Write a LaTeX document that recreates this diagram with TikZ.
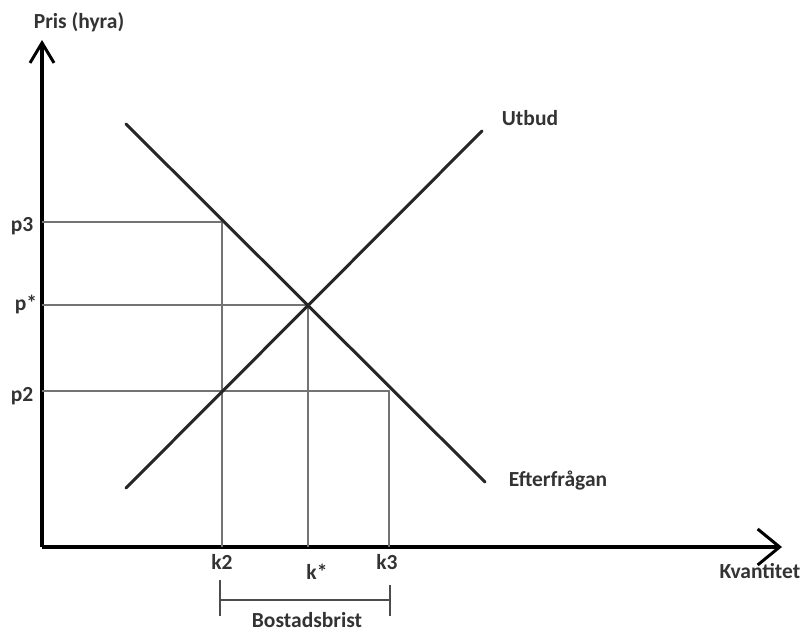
\documentclass[tikz,border=0pt]{standalone}
\usepackage{fontspec}
\setmainfont{Carlito}
\usetikzlibrary{arrows.meta}
\begin{document}
\begin{tikzpicture}[x=1pt,y=-1pt,
  axis/.style={line width=4pt, black},
  curve/.style={line width=3pt, black!85, line cap=round},
  guide/.style={line width=1.6pt, black!55},
  lbl/.style={font=\fontsize{21.5}{24}\selectfont\bfseries, text=black!80, inner sep=0pt}]
\useasboundingbox (0,0) rectangle (805,634);
% axes
\coordinate (O) at (42,547);
\coordinate (ytip) at (42,40);
\coordinate (xtip) at (782,547);
\draw[axis, -{Straight Barb[length=20pt,width=24pt,line width=3pt]}] (O) -- (ytip);
\draw[axis, -{Straight Barb[length=22pt,width=36pt,line width=3pt]}] (O) -- (xtip);
% points
\coordinate (E) at (308,305);
\coordinate (D3) at (222,222);
\coordinate (D2) at (389,391);
% axis points
\coordinate (yp3) at (42,222);
\coordinate (yps) at (42,305);
\coordinate (yp2) at (42,391);
\coordinate (xk2) at (222,547);
\coordinate (xks) at (308,547);
\coordinate (xk3) at (389,547);
% guides
\draw[guide] (yp3) -- (D3) -- (xk2);
\draw[guide] (yps) -- (E) -- (xks);
\draw[guide] (yp2) -- (D2) -- (xk3);
% curves
\coordinate (Sa) at (126,488);
\coordinate (Sb) at (482,131);
\coordinate (Da) at (126,124);
\coordinate (Db) at (485,482);
\draw[curve] (Sa) -- (Sb);
\draw[curve] (Da) -- (Db);
% labels
\node[lbl] (ylab) at (79,22) {Pris (hyra)};
\node[lbl] (lp3) at (22,226) {p3};
\node[lbl] (lps) at (26,304) {p*};
\node[lbl] (lp2) at (22,396) {p2};
\node[lbl] (lk2) at (222,562) {k2};
\node[lbl] (lks) at (317,572) {k*};
\node[lbl] (lk3) at (387,562) {k3};
\node[lbl] (lut) at (530,118) {Utbud};
\node[lbl] (lef) at (558,481) {Efterfrågan};
\node[lbl] (lkv) at (760,571) {Kvantitet};
% Bostadsbrist bracket
\coordinate (b1t) at (220,580);
\coordinate (b1b) at (220,616);
\coordinate (b2t) at (390,585);
\coordinate (b2b) at (390,616);
\coordinate (b1m) at (220,600);
\coordinate (b2m) at (390,600);
\draw[guide, black!70] (b1t) -- (b1b);
\draw[guide, black!70] (b2t) -- (b2b);
\draw[guide, black!70] (b1m) -- (b2m);
\node[lbl] (lbb) at (307,620) {Bostadsbrist};
\end{tikzpicture}
\end{document}
